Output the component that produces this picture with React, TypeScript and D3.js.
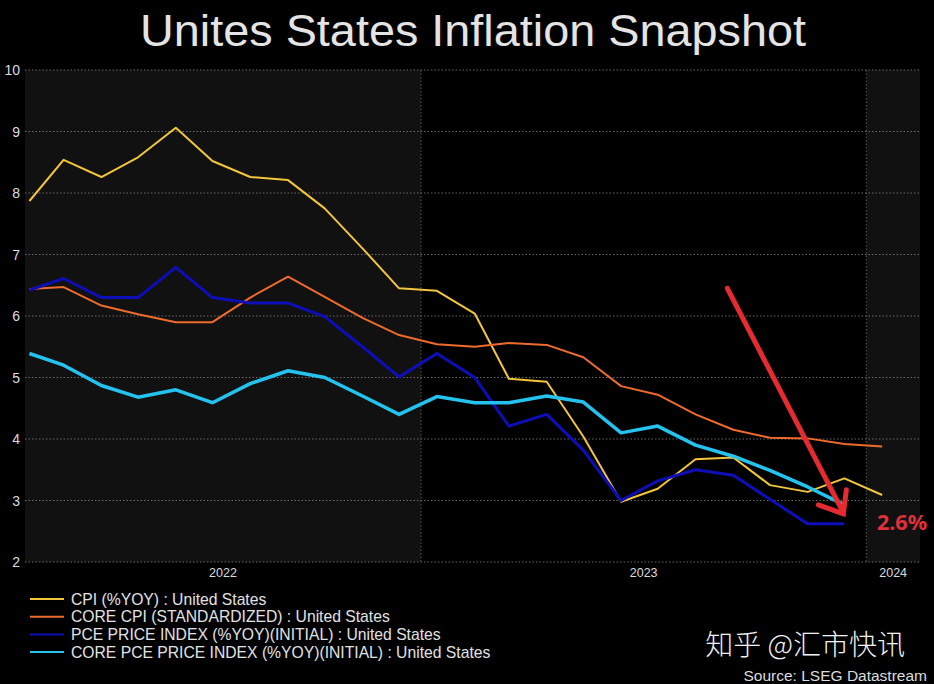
import React from "react";
import * as d3 from "d3";

const months: string[] = [
  "2022-02", "2022-03", "2022-04", "2022-05", "2022-06", "2022-07", "2022-08", "2022-09", "2022-10", "2022-11", "2022-12",
  "2023-01", "2023-02", "2023-03", "2023-04", "2023-05", "2023-06", "2023-07", "2023-08", "2023-09", "2023-10", "2023-11", "2023-12",
  "2024-01",
];

const cpi: (number | null)[] = [7.87, 8.54, 8.26, 8.58, 9.06, 8.52, 8.26, 8.21, 7.75, 7.10, 6.45, 6.41, 6.04, 4.98, 4.93, 4.04, 2.98, 3.19, 3.67, 3.70, 3.25, 3.14, 3.36, 3.09];
const coreCpi: (number | null)[] = [6.44, 6.47, 6.17, 6.03, 5.90, 5.90, 6.30, 6.64, 6.31, 5.97, 5.69, 5.54, 5.50, 5.56, 5.53, 5.33, 4.86, 4.72, 4.40, 4.15, 4.02, 4.01, 3.92, 3.88];
const pce: (number | null)[] = [6.42, 6.61, 6.30, 6.30, 6.79, 6.30, 6.21, 6.21, 5.99, 5.50, 5.01, 5.39, 5.00, 4.21, 4.40, 3.82, 3.00, 3.32, 3.50, 3.41, 3.02, 2.62, 2.62, null];
const corePce: (number | null)[] = [5.39, 5.20, 4.87, 4.68, 4.80, 4.59, 4.90, 5.11, 5.00, 4.70, 4.40, 4.69, 4.59, 4.59, 4.70, 4.60, 4.10, 4.21, 3.90, 3.72, 3.49, 3.22, 2.93, null];

const seriesNames: string[] = [
  "CPI (%YOY) : United States",
  "CORE CPI (STANDARDIZED) : United States",
  "PCE PRICE INDEX (%YOY)(INITIAL) : United States",
  "CORE PCE PRICE INDEX (%YOY)(INITIAL) : United States",
];
const seriesColors: string[] = ["#f2c53d", "#ee6b2b", "#0e0eb8", "#24c3ef"];
const seriesWidths: number[] = [2, 2, 3, 3.5];
const seriesValues = [cpi, coreCpi, pce, corePce];

const yTicks: number[] = [2, 3, 4, 5, 6, 7, 8, 9, 10];
const yearLabels: string[] = ["2022", "2023", "2024"];
const yearStarts: string[] = ["2022-01-01", "2023-01-01", "2024-01-01"];

const title = "Unites States Inflation Snapshot";
const annotation = "2.6%";
const watermark = "知乎 @汇市快讯";
const source = "Source: LSEG Datastream";

const W = 934;
const H = 684;
const left = 25;
const right = 920;
const top = 70;
const bottom = 562;

export default function App() {
  const x = d3.scaleTime().domain([new Date(2022, 1, 12), new Date(2024, 1, 14)]).range([left + 2, right]);
  const y = d3.scaleLinear().domain([2, 10]).range([bottom, top]);
  const dates = months.map((m) => {
    const [yy, mm] = m.split("-").map(Number);
    return new Date(yy, mm - 1, 14);
  });
  const yearX = yearStarts.map((s) => {
    const [yy, mm, dd] = s.split("-").map(Number);
    return x(new Date(yy, mm - 1, dd));
  });
  const bands = [
    { x0: left, x1: yearX[1], fill: "#111111" },
    { x0: yearX[1], x1: yearX[2], fill: "#000000" },
    { x0: yearX[2], x1: right, fill: "#111111" },
  ];
  const line = d3
    .line<[Date, number | null]>()
    .defined((d) => d[1] != null)
    .x((d) => x(d[0]))
    .y((d) => y(d[1] as number));

  // arrow annotation anchored to data: last core PCE point
  const lastIdx = 22;
  const tip = { x: x(dates[lastIdx]) - 1, y: y(2.8) };
  const tail = { x: x(dates[lastIdx - 3]) - 6, y: y(6.45) };

  const font = "Liberation Sans, Arial, sans-serif";
  return (
    <svg width={W} height={H} style={{ position: "absolute", left: 0, top: 0, background: "#000" }}>
      <rect x={0} y={0} width={W} height={H} fill="#000" />
      <text x={473} y={46} textAnchor="middle" fill="#e4e4e4" fontFamily={font} fontSize={44} textLength={666} lengthAdjust="spacingAndGlyphs">
        {title}
      </text>
      {bands.map((b, i) => (
        <rect key={i} x={b.x0} y={top} width={b.x1 - b.x0} height={bottom - top} fill={b.fill} />
      ))}
      {yTicks.map((t) => (
        <g key={t}>
          <line x1={left} x2={right} y1={y(t)} y2={y(t)} stroke="#6a6a6a" strokeWidth={1} strokeDasharray="1.5,2" />
          <text x={20} y={y(t) + 5} textAnchor="end" fill="#dcdcdc" fontFamily={font} fontSize={14}>
            {t}
          </text>
        </g>
      ))}
      {[yearX[1], yearX[2]].map((xx, i) => (
        <line key={i} x1={xx} x2={xx} y1={top} y2={bottom} stroke="#555" strokeWidth={1} strokeDasharray="1.5,2" />
      ))}
      {yearLabels.map((lab, i) => {
        const x0 = Math.max(left, yearX[i]);
        const x1 = i < 2 ? yearX[i + 1] : right;
        return (
          <text key={lab} x={(x0 + x1) / 2} y={577} textAnchor="middle" fill="#dcdcdc" fontFamily={font} fontSize={12.5}>
            {lab}
          </text>
        );
      })}
      {seriesValues.map((vals, i) => (
        <path
          key={i}
          d={line(dates.map((d, j) => [d, vals[j]] as [Date, number | null])) || ""}
          fill="none"
          stroke={seriesColors[i]}
          strokeWidth={seriesWidths[i]}
          strokeLinejoin="round"
        />
      ))}
      <g stroke="#e52a30" strokeWidth={5} strokeLinecap="round" fill="none">
        <line x1={tail.x} y1={tail.y} x2={tip.x} y2={tip.y} />
        <polyline points={`${tip.x - 25},${tip.y - 8} ${tip.x},${tip.y + 1} ${tip.x + 3},${tip.y - 23}`} />
      </g>
      <text x={877} y={530} fill="#e0303a" fontFamily="Noto Sans, DejaVu Sans, sans-serif" fontWeight="bold" fontSize={21.5}>
        {annotation}
      </text>
      {seriesNames.map((name, i) => {
        const ly = 599 + i * 17.7;
        return (
          <g key={name}>
            <line x1={30} x2={64} y1={ly} y2={ly} stroke={seriesColors[i]} strokeWidth={2} />
            <text x={71} y={ly + 5.5} fill="#e2e2e2" fontFamily={font} fontSize={15.7}>
              {name}
            </text>
          </g>
        );
      })}
      <text x={905} y={655} textAnchor="end" fill="#f2f2f2" fontFamily="Noto Sans CJK SC, sans-serif" fontSize={28} fontWeight={300}>
        {watermark}
      </text>
      <text x={927} y={681} textAnchor="end" fill="#dcdcdc" fontFamily={font} fontSize={15.5}>
        {source}
      </text>
    </svg>
  );
}
